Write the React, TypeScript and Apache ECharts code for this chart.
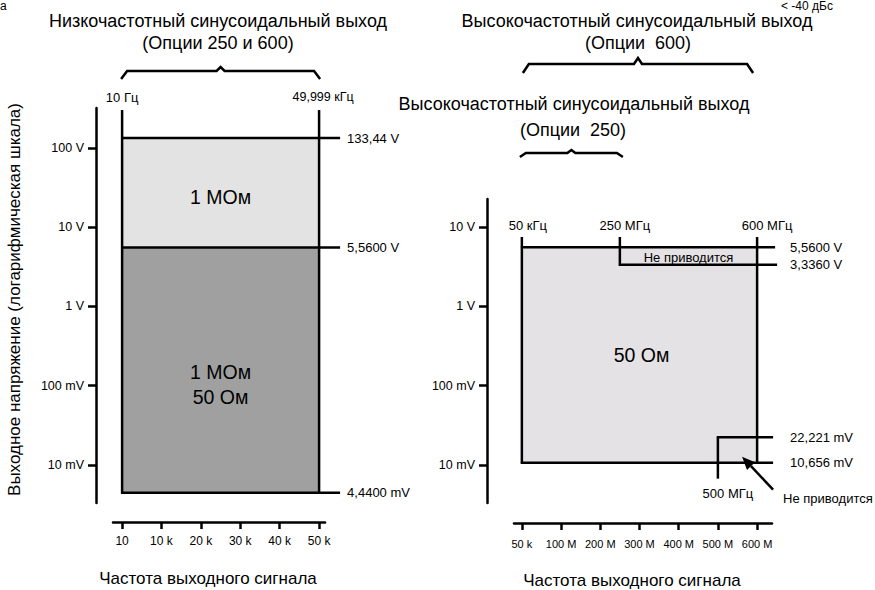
import React, { useEffect, useRef } from "react";
import * as echarts from "echarts";

const FONT = '"Liberation Sans", Arial, Helvetica, sans-serif';
const f = (size: number) => `${size}px ${FONT}`;

// ---------- Left panel: low-frequency sine output ----------
const lowTitle = ["Низкочастотный синусоидальный выход", "(Опции 250 и 600)"];
const lowFreqRange = [10, 49999];
const lowFreqLabels = ["10 Гц", "49,999 кГц"];
const lowLevels = [133.44, 5.56, 0.00444];
const lowLevelLabels = ["133,44 V", "5,5600 V", "4,4400 mV"];
const lowZoneLabels = [["1 МОм"], ["1 МОм", "50 Ом"]];
const lowXTicks = [10, 10000, 20000, 30000, 40000, 50000];
const lowXTickLabels = ["10", "10 k", "20 k", "30 k", "40 k", "50 k"];
const lowYTicks = [100, 10, 1, 0.1, 0.01];
const lowYTickLabels = ["100 V", "10 V", "1 V", "100 mV", "10 mV"];
const lowXRange = [-2300, 51500];
const lowYRange = [0.0033, 320];

// ---------- Right panel: high-frequency sine output ----------
const highTitle600 = ["Высокочастотный синусоидальный выход", "(Опции  600)"];
const highTitle250 = ["Высокочастотный синусоидальный выход", "(Опции  250)"];
const highFreqs = [50000, 250e6, 500e6, 600e6];
const highFreqLabels = ["50 кГц", "250 МГц", "500 МГц", "600 МГц"];
const highLevels = [5.56, 3.336, 0.022221, 0.010656];
const highLevelLabels = ["5,5600 V", "3,3360 V", "22,221 mV", "10,656 mV"];
const highZoneLabel = "50 Ом";
const notSpecified = "Не приводится";
const highXTicks = [50000, 100e6, 200e6, 300e6, 400e6, 500e6, 600e6];
const highXTickLabels = ["50 k", "100 M", "200 M", "300 M", "400 M", "500 M", "600 M"];
const highYTicks = [10, 1, 0.1, 0.01];
const highYTickLabels = ["10 V", "1 V", "100 mV", "10 mV"];
const highXRange = [-20e6, 638e6];
const highYRange = [0.0033, 22.6];

const xName = "Частота выходного сигнала";
const yName = "Выходное напряжение (логарифмическая шкала)";
const cutTexts = ["а", "< -40 дБс"];

const pick = (ticks: number[], labels: string[], v: number) => {
  let best = 0;
  let bestD = Infinity;
  ticks.forEach((t, i) => {
    const d = Math.abs(t - v) / Math.max(Math.abs(t), 1e-12);
    if (d < bestD) {
      bestD = d;
      best = i;
    }
  });
  return bestD < 1e-6 ? labels[best] : "";
};

const LW = 2.5;
const line = (x1: number, y1: number, x2: number, y2: number, w = LW) => ({
  type: "line",
  shape: { x1, y1, x2, y2 },
  style: { stroke: "#000", lineWidth: w },
});
const rect = (x: number, y: number, w: number, h: number, fill: string) => ({
  type: "rect",
  shape: { x, y, width: w, height: h },
  style: { fill },
});
const txt = (
  x: number,
  y: number,
  text: string,
  size: number,
  align = "center",
  vAlign = "middle"
) => ({
  type: "text",
  x,
  y,
  style: {
    text,
    fill: "#000",
    font: f(size),
    textAlign: align,
    textVerticalAlign: vAlign,
  },
});
const poly = (points: number[][], w = LW) => ({
  type: "polyline",
  shape: { points },
  style: { stroke: "#000", lineWidth: w, fill: null },
});
const brace = (xa: number, xb: number, yEnd: number, yMid: number, yPeak: number) => {
  const m = (xa + xb) / 2;
  return poly([
    [xa, yEnd],
    [xa + 6, yMid],
    [m - 4, yMid],
    [m, yPeak],
    [m + 4, yMid],
    [xb - 6, yMid],
    [xb, yEnd],
  ]);
};

const renderLow = (_params: any, api: any) => {
  const xa = api.coord([lowFreqRange[0], 1])[0];
  const xb = api.coord([lowFreqRange[1], 1])[0];
  const yTop = api.coord([lowFreqRange[0], lowYRange[1]])[1];
  const ys = lowLevels.map((v) => api.coord([lowFreqRange[0], v])[1]);
  const mid = (xa + xb) / 2;
  const children: any[] = [
    rect(xa, ys[0], xb - xa, ys[1] - ys[0], "#e3e3e3"),
    rect(xa, ys[1], xb - xa, ys[2] - ys[1], "#a0a0a0"),
    ...ys.map((y) => line(xa - 1, y, xb + 21, y)),
    ...ys.map((y, i) => txt(xb + 28, y, lowLevelLabels[i], 13, "left")),
    line(xa, yTop + 2, xa, ys[2] + 1),
    line(xb, yTop + 2, xb, ys[2] + 1),
    txt(xa, yTop - 11, lowFreqLabels[0], 13),
    txt(xb + 4, yTop - 11, lowFreqLabels[1], 12.5),
    txt(mid, (ys[0] + ys[1]) / 2 + 4, lowZoneLabels[0][0], 19.5),
    txt(mid, (ys[1] + ys[2]) / 2 + 2, lowZoneLabels[1][0], 19.5),
    txt(mid, (ys[1] + ys[2]) / 2 + 27, lowZoneLabels[1][1], 19.5),
    brace(xa - 1, xb + 1, yTop - 29, yTop - 37, yTop - 41),
    txt(218, 21, lowTitle[0], 18),
    txt(218, 43, lowTitle[1], 18),
  ];
  return { type: "group", children };
};

const renderHigh = (_params: any, api: any) => {
  const xs = highFreqs.map((v) => api.coord([v, 1])[0]);
  const yTop = api.coord([highFreqs[0], highYRange[1]])[1];
  const ys = highLevels.map((v) => api.coord([highFreqs[0], v])[1]);
  const [x50k, x250, x500, x600] = xs;
  const [y556, y3336, y22, y10] = ys;
  const vTop = yTop + 38;
  // arrow
  const sx = x600 + 16, sy = y10 + 27, ex = x600 - 15, ey = y10 - 6;
  const len = Math.hypot(ex - sx, ey - sy);
  const dx = (ex - sx) / len, dy = (ey - sy) / len;
  const bx = ex - dx * 13, by = ey - dy * 13;
  const px = -dy, py = dx;
  const children: any[] = [
    rect(x50k, y556, x600 - x50k, y10 - y556, "#e4e2e4"),
    line(x50k - 1, y556, x600 + 18, y556),
    line(x250 - 1, y3336, x600 + 20, y3336),
    line(x500 - 1, y22, x600 + 16, y22),
    line(x50k - 1, y10, x600 + 16, y10),
    line(x50k, vTop, x50k, y10 + 1),
    line(x600, vTop, x600, y10 + 1),
    line(x250, vTop, x250, y3336 + 1),
    line(x500, y22 - 1, x500, y10 + 16),
    txt(x50k + 6, yTop + 26, highFreqLabels[0], 13),
    txt(x250 + 5, yTop + 26, highFreqLabels[1], 13),
    txt(x600 + 10, yTop + 26, highFreqLabels[3], 13),
    txt(x500 + 10, y10 + 31, highFreqLabels[2], 13),
    txt(x600 + 33, y556, highLevelLabels[0], 13, "left"),
    txt(x600 + 33, y3336, highLevelLabels[1], 13, "left"),
    txt(x600 + 33, y22, highLevelLabels[2], 13, "left"),
    txt(x600 + 33, y10, highLevelLabels[3], 13, "left"),
    txt((x250 + x600) / 2, (y556 + y3336) / 2 + 1, notSpecified, 13),
    txt((x50k + x600) / 2 + 2, (y556 + y10) / 2, highZoneLabel, 19.5),
    line(sx, sy, bx, by, 2.5),
    {
      type: "polygon",
      shape: {
        points: [
          [ex, ey],
          [bx + px * 5.5, by + py * 5.5],
          [bx - px * 5.5, by - py * 5.5],
        ],
      },
      style: { fill: "#000" },
    },
    txt(x600 + 26, y10 + 36, notSpecified, 13, "left"),
    brace(x50k + 1, x600 - 4, 73, 64, 58),
    brace(x50k - 2, x250 + 3, 157, 153, 150),
    txt(637, 21, highTitle600[0], 18),
    txt(638, 43, highTitle600[1], 18),
    txt(574, 104, highTitle250[0], 18),
    txt(573, 130, highTitle250[1], 18),
  ];
  return { type: "group", children };
};

const axisLine = { show: true, onZero: false, lineStyle: { color: "#000", width: LW } };
const tickStyle = { color: "#000", width: LW };

export default function App() {
  const ref = useRef<HTMLDivElement>(null);
  useEffect(() => {
    document.body.style.margin = "0";
    if (!ref.current) return;
    const chart = echarts.init(ref.current, null, { renderer: "svg" });
    const option: any = {
      animation: false,
      backgroundColor: "#ffffff",
      textStyle: { fontFamily: FONT, color: "#000" },
      grid: [
        { left: 113, top: 108, width: 212, height: 395, containLabel: false, outerBoundsMode: "none" },
        { left: 514, top: 199, width: 258, height: 304, containLabel: false, outerBoundsMode: "none" },
      ],
      xAxis: [
        {
          gridIndex: 0,
          type: "value",
          min: lowXRange[0],
          max: lowXRange[1],
          position: "bottom",
          offset: 19,
          axisLine,
          axisTick: { show: true, customValues: lowXTicks, length: 7, lineStyle: tickStyle },
          axisLabel: {
            customValues: lowXTicks,
            formatter: (v: number) => pick(lowXTicks, lowXTickLabels, v),
            color: "#000",
            fontSize: 12,
            fontFamily: FONT,
            margin: 13,
          },
          splitLine: { show: false },
          name: xName,
          nameLocation: "middle",
          nameGap: 48,
          nameTextStyle: { fontSize: 17, color: "#000", fontFamily: FONT, padding: [0, 22, 0, 0] },
        },
        {
          gridIndex: 1,
          type: "value",
          min: highXRange[0],
          max: highXRange[1],
          position: "bottom",
          offset: 20,
          axisLine,
          axisTick: { show: true, customValues: highXTicks, length: 7, lineStyle: tickStyle },
          axisLabel: {
            customValues: highXTicks,
            formatter: (v: number) => pick(highXTicks, highXTickLabels, v),
            color: "#000",
            fontSize: 11,
            fontFamily: FONT,
            margin: 15,
          },
          splitLine: { show: false },
          name: xName,
          nameLocation: "middle",
          nameGap: 49,
          nameTextStyle: { fontSize: 17, color: "#000", fontFamily: FONT, padding: [0, 22, 0, 0] },
        },
      ],
      yAxis: [
        {
          gridIndex: 0,
          type: "log",
          logBase: 10,
          min: lowYRange[0],
          max: lowYRange[1],
          position: "left",
          offset: 17,
          axisLine,
          axisTick: { show: true, customValues: lowYTicks, length: 8, lineStyle: tickStyle },
          axisLabel: {
            customValues: lowYTicks,
            formatter: (v: number) => pick(lowYTicks, lowYTickLabels, v),
            color: "#000",
            fontSize: 12.5,
            fontFamily: FONT,
            margin: 12,
          },
          splitLine: { show: false },
          minorTick: { show: false },
          name: yName,
          nameLocation: "middle",
          nameRotate: 90,
          nameGap: 73,
          nameTextStyle: { fontSize: 17, color: "#000", fontFamily: FONT, padding: [0, 0, 0, 12] },
        },
        {
          gridIndex: 1,
          type: "log",
          logBase: 10,
          min: highYRange[0],
          max: highYRange[1],
          position: "left",
          offset: 27,
          axisLine,
          axisTick: { show: true, customValues: highYTicks, length: 8, lineStyle: tickStyle },
          axisLabel: {
            customValues: highYTicks,
            formatter: (v: number) => pick(highYTicks, highYTickLabels, v),
            color: "#000",
            fontSize: 12.5,
            fontFamily: FONT,
            margin: 12,
          },
          splitLine: { show: false },
          minorTick: { show: false },
        },
      ],
      graphic: [
        {
          type: "text",
          left: 0,
          top: 0,
          style: { text: cutTexts[0], font: f(12), fill: "#000" },
        },
        {
          type: "text",
          left: 781,
          top: 0,
          style: { text: cutTexts[1], font: f(12), fill: "#000" },
        },
      ],
      series: [
        {
          type: "custom",
          xAxisIndex: 0,
          yAxisIndex: 0,
          coordinateSystem: "cartesian2d",
          data: [[lowFreqRange[0], lowLevels[0]]],
          renderItem: renderLow,
          clip: false,
          silent: true,
        },
        {
          type: "custom",
          xAxisIndex: 1,
          yAxisIndex: 1,
          coordinateSystem: "cartesian2d",
          data: [[highFreqs[0], highLevels[0]]],
          renderItem: renderHigh,
          clip: false,
          silent: true,
        },
      ],
    };
    chart.setOption(option);
    return () => chart.dispose();
  }, []);
  return <div ref={ref} style={{ width: 875, height: 590 }} />;
}
